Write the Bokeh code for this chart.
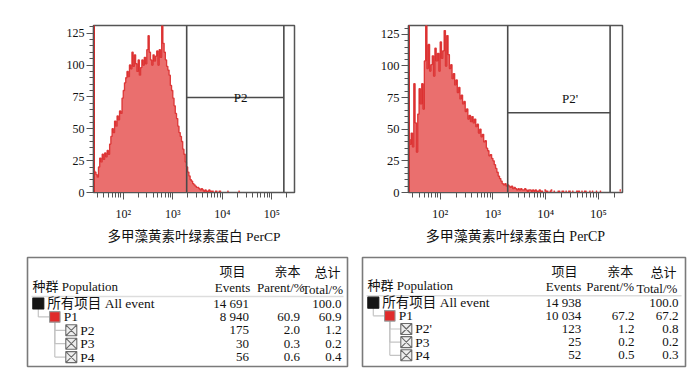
import numpy as np
from bokeh.plotting import figure
from bokeh.layouts import column, row
from bokeh.models import Range1d, FixedTicker, SingleIntervalTicker
from bokeh.core.properties import value
from bokeh.embed import file_html
from bokeh.resources import INLINE

# ---------------- data ----------------
bin_start_log = 1.40      # log10 of first bin's left edge
bin_width_log = 0.025     # bin width in decades
x_min, x_max = 10 ** 1.40, 10 ** 5.455

counts_a = [17, 16, 14, 12, 20, 27, 24, 30, 26, 31,
            28, 33, 30, 38, 44, 50, 47, 56, 52, 60,
            57, 64, 62, 74, 80, 86, 90, 95, 91, 100,
            97, 110, 99, 108, 101, 95, 104, 92, 98, 104,
            100, 106, 101, 112, 123, 110, 104, 100, 108, 103,
            107, 111, 100, 112, 106, 131, 117, 110, 104, 99,
            96, 92, 84, 80, 74, 68, 62, 58, 52, 47,
            44, 40, 34, 30, 24, 20, 16, 13, 10, 9,
            7, 6, 5, 4, 4, 3, 2, 3, 2, 1,
            2, 1, 1, 2, 1, 1, 1, 0, 1, 1,
            0, 1, 1, 0, 0, 0, 0, 0, 1, 0,
            0, 0, 0, 0, 0, 0, 0, 1]
counts_b = [42, 38, 47, 36, 86, 55, 32, 62, 82, 70,
            86, 66, 104, 134, 98, 117, 96, 101, 108, 92,
            114, 104, 110, 96, 119, 106, 112, 128, 100, 124,
            109, 98, 101, 90, 94, 85, 89, 79, 83, 74,
            77, 70, 72, 64, 66, 58, 61, 56, 60, 55,
            58, 52, 54, 47, 50, 44, 46, 40, 41, 35,
            33, 29, 30, 27, 25, 22, 19, 16, 13, 11,
            9, 7, 6, 7, 5, 6, 5, 4, 5, 3,
            4, 3, 2, 3, 2, 3, 2, 2, 3, 2,
            1, 2, 2, 1, 2, 1, 2, 1, 1, 2,
            1, 1, 0, 2, 1, 1, 0, 1, 2, 0,
            1, 0, 0, 1, 1, 0, 1, 1, 0, 1,
            0, 1, 1, 0, 1, 0, 0, 1, 1, 1,
            0, 1, 0, 1, 1, 0, 0, 1, 0, 1,
            0, 0, 1, 0, 0, 1, 0, 0, 0, 0,
            0, 0, 0, 0, 0, 0, 0, 0, 0, 0,
            2, 0]
underflow_a = 300
underflow_b = 300

gate_a = [1905, 173800, 74.5]     # P2 gate: low, high, marker height
gate_b = [1905, 166000, 63.0]     # P2' gate
gate_name_a = "P2"
gate_name_b = "P2'"
y_top_a = 131
y_top_b = 132

x_major = [1e2, 1e3, 1e4, 1e5]
x_labels = ["10²", "10³", "10⁴", "10⁵"]
x_minor = [30, 40, 50, 60, 70, 80, 90,
           200, 300, 400, 500, 600, 700, 800, 900,
           2000, 3000, 4000, 5000, 6000, 7000, 8000, 9000,
           20000, 30000, 40000, 50000, 60000, 70000, 80000, 90000, 200000]
x_title = "多甲藻黄素叶绿素蛋白 PerCP"

levels = [0, 1, 2, 2, 2]
names_a = ["所有项目 All event", "P1", "P2", "P3", "P4"]
events_a = [14691, 8940, 175, 30, 56]
parent_a = [None, 60.9, 2.0, 0.3, 0.6]
total_a = [100.0, 60.9, 1.2, 0.2, 0.4]
names_b = ["所有项目 All event", "P1", "P2'", "P3", "P4"]
events_b = [14938, 10034, 123, 25, 52]
parent_b = [None, 67.2, 1.2, 0.2, 0.5]
total_b = [100.0, 67.2, 0.8, 0.2, 0.3]
head_cn = ["项目", "亲本", "总计"]
head_en = ["Events", "Parent/%", "Total/%"]
head_pop = "种群  Population"

# ---------------- style ----------------
SERIF = "Liberation Serif"
MIXED = "Liberation Serif, Noto Sans CJK SC"
FILL = "#EA6F6E"
LINE = "#DA2A2A"
GATE = "#4a4a4a"
AXIS = "#555555"


def hist_figure(counts, underflow, gate, gate_name, label_pos, y_top, width, borders,
                tick_size, title_size):
    bl, br, bt, bb = borders
    p = figure(width=width, height=248, x_axis_type="log",
               x_range=Range1d(x_min, x_max), y_range=Range1d(0, y_top),
               output_backend="svg", toolbar_location=None,
               min_border_left=bl, min_border_right=br,
               min_border_top=bt, min_border_bottom=bb)
    p.grid.visible = False
    p.outline_line_color = AXIS
    p.outline_line_width = 1.5
    p.background_fill_color = "white"
    p.border_fill_color = "white"

    edges = 10 ** (bin_start_log + bin_width_log * np.arange(len(counts) + 1))
    px, py = [edges[0]], [0]
    for i, c in enumerate(counts):
        px += [edges[i], edges[i + 1]]
        py += [c, c]
    px.append(edges[-1])
    py.append(0)
    p.patch(px, py, fill_color=FILL, line_color=None)

    lx, ly = [], []
    for i, c in enumerate(counts):
        if c == 0:
            lx.append(np.nan)
            ly.append(np.nan)
        else:
            lx += [edges[i], edges[i + 1]]
            ly += [c, c]
    p.line(lx, ly, line_color=LINE, line_width=1.3, line_alpha=0.9)
    p.segment(x0=[edges[0]], y0=[0], x1=[edges[0]], y1=[underflow],
              line_color=LINE, line_width=3)

    lo, hi, gy = gate
    p.segment(x0=[lo, hi, lo], y0=[0, 0, gy], x1=[lo, hi, hi], y1=[y_top, y_top, gy],
              line_color=GATE, line_width=1.6)
    p.text(x=[label_pos[0]], y=[label_pos[1]], text=[gate_name],
           text_align="center", text_baseline="middle",
           text_font=value(SERIF), text_font_size="13px", text_color="#111111")

    xa = p.xaxis[0]
    xa.ticker = FixedTicker(ticks=x_major, minor_ticks=x_minor)
    xa.major_label_overrides = {t: s for t, s in zip(x_major, x_labels)}
    xa.axis_label = x_title
    xa.axis_label_text_font = MIXED
    xa.axis_label_text_font_style = "normal"
    xa.axis_label_text_font_size = title_size
    xa.axis_label_text_color = "#111111"
    xa.axis_label_standoff = 5
    xa.major_label_standoff = 7

    ya = p.yaxis[0]
    ya.ticker = SingleIntervalTicker(interval=25, num_minor_ticks=5)
    ya.major_label_standoff = 2

    for ax in (xa, ya):
        ax.axis_line_color = AXIS
        ax.axis_line_width = 1.2
        ax.major_tick_line_color = AXIS
        ax.minor_tick_line_color = AXIS
        ax.major_tick_in = 0
        ax.minor_tick_in = 0
        ax.major_tick_out = 7
        ax.minor_tick_out = 4
        ax.major_label_text_font = SERIF
        ax.major_label_text_font_size = tick_size
        ax.major_label_text_color = "#111111"
    xa.minor_tick_out = 5
    return p


def table_figure(names, events, parent, total, width, borders, frame_w, frame_h, cols):
    bl, br, bt, bb = borders
    p = figure(width=width, height=128, x_range=Range1d(0, frame_w),
               y_range=Range1d(frame_h, 0), x_axis_location=None, y_axis_location=None,
               output_backend="svg", toolbar_location=None,
               min_border_left=bl, min_border_right=br,
               min_border_top=bt, min_border_bottom=bb)
    p.grid.visible = False
    p.outline_line_color = "#7a7a7a"
    p.outline_line_width = 1.6
    p.border_fill_color = "white"

    ev_c, pa_c, to_c, cn_c, ev_r, pa_r, to_r = cols
    row0, dy = 46, 13.4
    base, indent, gap = 10.8, 16.5, 9

    # header
    p.text(x=cn_c, y=[14, 14, 15], text=head_cn, text_align="center", text_baseline="middle",
           text_font=value(MIXED), text_font_size="13px", text_color="#111111")
    p.text(x=[ev_c, pa_c, to_c], y=[30, 30, 32], text=head_en, text_align="center",
           text_baseline="middle", text_font=value(SERIF), text_font_size="13px",
           text_color="#111111")
    p.text(x=[5], y=[28.5], text=[head_pop], text_align="left", text_baseline="middle",
           text_font=value(MIXED), text_font_size="13px", text_color="#111111")
    p.segment(x0=[4], y0=[39], x1=[frame_w - 4], y1=[39], line_color="#dddddd", line_width=1.5)

    ys = [row0 + i * dy for i in range(len(names))]
    mx = [base + lv * indent for lv in levels]

    # tree connectors
    tx0, ty0, tx1, ty1 = [], [], [], []
    for i in range(1, len(levels)):
        parent_idx = max(j for j in range(i) if levels[j] == levels[i] - 1)
        px_ = mx[parent_idx]
        tx0 += [px_, px_]
        ty0 += [ys[parent_idx] + 5, ys[i]]
        tx1 += [px_, mx[i] - 5.5]
        ty1 += [ys[i], ys[i]]
    p.segment(x0=tx0, y0=ty0, x1=tx1, y1=ty1, line_color="#c4c4c4", line_width=1.2)

    fills = {0: "#151515", 1: "#E02B2B", 2: "#eeeeee"}
    markers = {0: "square", 1: "square", 2: "square_x"}
    lines = {0: "#151515", 1: "#999999", 2: "#6a6a6a"}
    for lv in (0, 1, 2):
        idx = [i for i, l in enumerate(levels) if l == lv]
        p.scatter(x=[mx[i] for i in idx], y=[ys[i] for i in idx], marker=markers[lv],
                  size=11 if lv != 1 else 10.5, fill_color=fills[lv], line_color=lines[lv],
                  line_width=1.1)

    p.text(x=[m + gap for m in mx], y=ys, text=names, text_align="left",
           text_baseline="middle", text_font=value(MIXED), text_font_size="13.5px",
           text_color="#111111")
    p.text(x=[ev_r] * len(events), y=ys, text=[f"{v:,}".replace(",", " ") for v in events],
           text_align="right", text_baseline="middle", text_font=value(SERIF),
           text_font_size="13px", text_color="#111111")
    p.text(x=[pa_r] * len(parent), y=ys, text=["" if v is None else f"{v:.1f}" for v in parent],
           text_align="right", text_baseline="middle", text_font=value(SERIF),
           text_font_size="13px", text_color="#111111")
    p.text(x=[to_r] * len(total), y=ys, text=[f"{v:.1f}" for v in total],
           text_align="right", text_baseline="middle", text_font=value(SERIF),
           text_font_size="13px", text_color="#111111")
    return p


h1 = hist_figure(counts_a, underflow_a, gate_a, gate_name_a, (10 ** 4.37, 74.5), y_top_a,
                 350, (93, 56, 25, 56), "12px", "13.5px")
h2 = hist_figure(counts_b, underflow_b, gate_b, gate_name_b, (10 ** 4.46, 74.0), y_top_b,
                 342, (58, 70, 23, 50), "12.5px", "14px")
t1 = table_figure(names_a, events_a, parent_a, total_a, 350, (27, 3, 9, 10), 320, 109,
                  (205, 253.3, 295, [205, 260, 300], 221.6, 272.6, 314))
t2 = table_figure(names_b, events_b, parent_b, total_b, 342, (12, 7, 9, 8), 323, 111,
                  (201, 247.7, 294.4, [202, 257.7, 301], 218.7, 272, 316))

layout = column(row(h1, h2), row(t1, t2))
open("out.html", "w").write(file_html(layout, INLINE))
